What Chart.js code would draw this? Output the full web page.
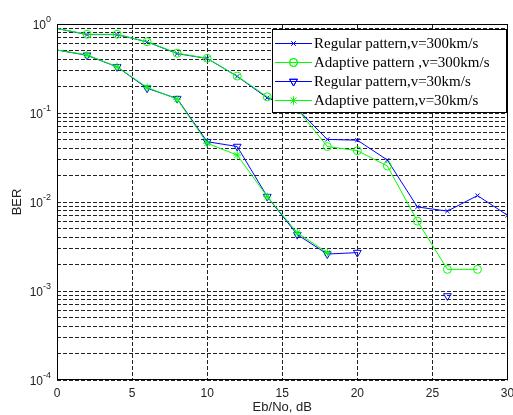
<!DOCTYPE html>
<html>
<head>
<meta charset="utf-8">
<script src="https://cdn.jsdelivr.net/npm/chart.js@4/dist/chart.umd.min.js"></script>
<style>
  html, body { margin: 0; padding: 0; background: #ffffff; }
  #wrap { position: relative; width: 513px; height: 415px; }
</style>
</head>
<body>
<div id="wrap"><canvas id="c" width="513" height="415"></canvas></div>
<script>
// ---- data ----
const ebNo = [0, 2, 4, 6, 8, 10, 12, 14, 16, 18, 20, 22, 24, 26, 28, 30];
const regular300  = [0.89, 0.76, 0.76, 0.63, 0.465, 0.41, 0.258, 0.148, 0.111, 0.0505, 0.0495, 0.0296, 0.0088, 0.0079, 0.0118, 0.0071];
const adaptive300 = [0.89, 0.766, 0.766, 0.633, 0.469, 0.412, 0.26, 0.152, 0.111, 0.042, 0.0377, 0.0254, 0.0061, 0.00175, 0.00175, null];
const regular30   = [0.51, 0.445, 0.33, 0.19, 0.145, 0.0476, 0.042, 0.0115, 0.0043, 0.0026, 0.0027, null, null, 0.00088, null, null];
const adaptive30  = [0.51, 0.449, 0.331, 0.194, 0.143, 0.0457, 0.0337, 0.0115, 0.0045, 0.0027, null, null, null, null, null, null];
const seriesLabels = [
  'Regular pattern,v=300km/s',
  'Adaptive pattern ,v=300km/s',
  'Regular pattern,v=30km/s',
  'Adaptive pattern,v=30km/s'
];
const xTickValues = [0, 5, 10, 15, 20, 25, 30];
const yDecadeValues = [1, 0.1, 0.01, 0.001, 0.0001];
const yDecadeBase = '10';
const yDecadeExponents = ['0', '-1', '-2', '-3', '-4'];
const xTitle = 'Eb/No, dB';
const yTitle = 'BER';

const BLUE = '#0000ff';
const GREEN = '#00ff00';

function pts(arr) { return ebNo.map((x, i) => ({ x: x, y: arr[i] })); }

const styles = [
  { color: BLUE,  pointStyle: 'crossRot', radius: 3,   rotation: 0,   order: 4 },
  { color: GREEN, pointStyle: 'circle',   radius: 4,   rotation: 0,   order: 3 },
  { color: BLUE,  pointStyle: 'triangle', radius: 4.5, rotation: 180, order: 2 },
  { color: GREEN, pointStyle: 'star',     radius: 4,   rotation: 0,   order: 1 }
];
const seriesData = [regular300, adaptive300, regular30, adaptive30];

const datasets = seriesData.map((arr, i) => ({
  label: seriesLabels[i],
  data: pts(arr),
  borderColor: styles[i].color,
  backgroundColor: 'rgba(0,0,0,0)',
  borderWidth: 1,
  pointStyle: styles[i].pointStyle,
  pointRadius: ebNo.map(x => (x === 0 ? 0 : styles[i].radius)),
  pointRotation: styles[i].rotation,
  pointBorderColor: styles[i].color,
  pointBackgroundColor: 'rgba(0,0,0,0)',
  pointBorderWidth: 1,
  pointHoverRadius: styles[i].radius,
  fill: false,
  tension: 0,
  spanGaps: false,
  order: styles[i].order
}));

function drawMarker(ctx, style, x, y) {
  if (Chart.helpers && Chart.helpers.drawPoint) {
    Chart.helpers.drawPoint(ctx, {
      pointStyle: style.pointStyle, radius: style.radius,
      rotation: style.rotation, borderWidth: 1
    }, x, y);
    ctx.stroke();
  }
}

const framePlugin = {
  id: 'frameAndLegend',
  afterDraw(chart) {
    const ctx = chart.ctx;
    const a = chart.chartArea;
    ctx.save();
    // plot box
    ctx.strokeStyle = '#000';
    ctx.lineWidth = 1;
    ctx.setLineDash([]);
    const l = Math.round(a.left) + 0.5, t = Math.round(a.top) + 0.5;
    const r = Math.round(a.right) - 0.5, b = Math.round(a.bottom) - 0.5;
    ctx.strokeRect(l, t, r - l, b - t);

    // y decade labels with superscript exponent, placed by the y scale
    const ys = chart.scales.y;
    ctx.fillStyle = '#222';
    ctx.textBaseline = 'alphabetic';
    for (let i = 0; i < yDecadeValues.length; i++) {
      const py = ys.getPixelForValue(yDecadeValues[i]);
      ctx.font = '9px "Liberation Sans", Arial, sans-serif';
      const ew = ctx.measureText(yDecadeExponents[i]).width;
      const expX = 51 - ew;
      ctx.textAlign = 'left';
      ctx.fillText(yDecadeExponents[i], expX, py - 2);
      ctx.font = '12px "Liberation Sans", Arial, sans-serif';
      ctx.textAlign = 'right';
      ctx.fillText(yDecadeBase, expX, py + 5);
    }

    // legend box
    const lx = 272.5, ly = 29.5, lw = 234, lh = 83;
    ctx.fillStyle = '#fff';
    ctx.fillRect(lx, ly, lw, lh);
    ctx.strokeStyle = '#000';
    ctx.strokeRect(lx, ly, lw, lh);
    const rowY = [43, 62, 81, 100];
    ctx.font = '15px "Liberation Serif", "Times New Roman", serif';
    ctx.textBaseline = 'middle';
    ctx.textAlign = 'left';
    for (let i = 0; i < 4; i++) {
      const y = rowY[i] + 0.5;
      ctx.strokeStyle = styles[i].color;
      ctx.lineWidth = 1;
      ctx.beginPath();
      ctx.moveTo(275, y);
      ctx.lineTo(312, y);
      ctx.stroke();
      ctx.fillStyle = 'rgba(0,0,0,0)';
      drawMarker(ctx, styles[i], 293.5, y);
      ctx.fillStyle = '#000';
      ctx.fillText(seriesLabels[i], 314, rowY[i] + 1);
    }
    ctx.restore();
  }
};

new Chart(document.getElementById('c'), {
  type: 'line',
  data: { datasets: datasets },
  options: {
    responsive: false,
    animation: false,
    devicePixelRatio: 1,
    layout: { padding: { top: 24, right: 5, left: 0, bottom: 0 } },
    plugins: { legend: { display: false }, tooltip: { enabled: false } },
    scales: {
      x: {
        type: 'linear',
        min: 0, max: 30,
        afterBuildTicks(scale) { scale.ticks = xTickValues.map(v => ({ value: v })); },
        afterFit(scale) { scale.height = 35; scale.paddingLeft = 0; scale.paddingRight = 0; },
        ticks: {
          autoSkip: false, maxRotation: 0, padding: 6,
          color: '#222',
          font: { family: '"Liberation Sans", Arial, sans-serif', size: 12 }
        },
        grid: { color: '#222', lineWidth: 1, drawTicks: false },
        border: { display: false, dash: [4, 2] },
        title: {
          display: true, text: xTitle, color: '#222',
          font: { family: '"Liberation Sans", Arial, sans-serif', size: 13 },
          padding: { top: 0, bottom: 0 }
        }
      },
      y: {
        type: 'logarithmic',
        min: 0.0001, max: 1,
        afterBuildTicks(scale) {
          const t = [];
          for (let k = -4; k <= 0; k++) {
            for (let m = 1; m <= 9; m++) {
              if (k === 0 && m > 1) break;
              t.push({ value: m * Math.pow(10, k) });
            }
          }
          scale.ticks = t;
        },
        afterFit(scale) { scale.width = 57; scale.paddingTop = 0; scale.paddingBottom = 0; },
        ticks: {
          autoSkip: false, padding: 6,
          color: '#222',
          font: { family: '"Liberation Sans", Arial, sans-serif', size: 12 },
          callback() { return ''; }
        },
        grid: { color: '#222', lineWidth: 1, drawTicks: false },
        border: { display: false, dash: [4, 2] },
        title: {
          display: true, text: yTitle, color: '#222',
          font: { family: '"Liberation Sans", Arial, sans-serif', size: 13 },
          padding: { top: 10, bottom: 0 }
        }
      }
    }
  },
  plugins: [framePlugin]
});
</script>
</body>
</html>
